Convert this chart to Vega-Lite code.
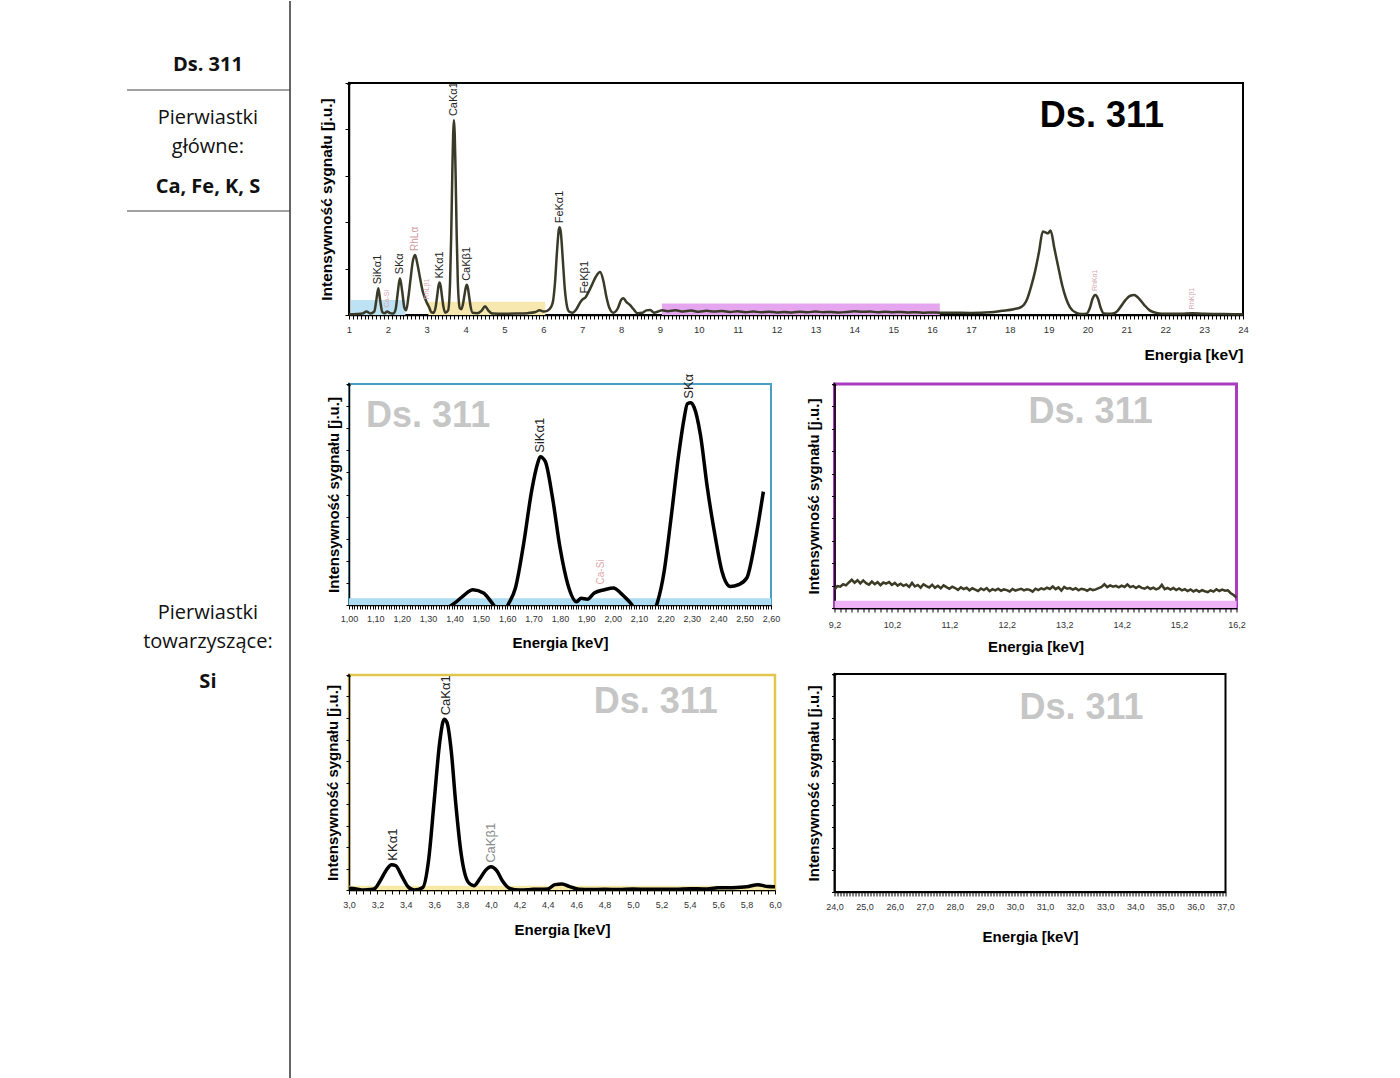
{
  "$schema": "https://vega.github.io/schema/vega-lite/v6.json",
  "background": "white",
  "padding": 0,
  "autosize": {"type": "pad"},
  "bounds": "flush",
  "spacing": 59,
  "config": {
    "view": {"stroke": null},
    "font": "Liberation Sans",
    "axis": {"grid": false, "domainColor": "black", "domainWidth": 1.5, "tickColor": "black", "tickWidth": 1, "labelColor": "#333333", "labelFontSize": 9, "labelFont": "Liberation Sans", "labelFlush": false, "labelOverlap": false, "labelBound": false, "titleFont": "Liberation Sans", "titleColor": "black", "titleFontWeight": "bold", "titleFontSize": 15}
  },
  "datasets": {
    "sideText": [
      {"text": "Ds. 311", "kind": "sample", "row": 64},
      {"text": "Pierwiastki", "kind": "heading", "row": 117},
      {"text": "główne:", "kind": "heading", "row": 146},
      {"text": "Ca, Fe, K, S", "kind": "elements", "row": 186},
      {"text": "Pierwiastki", "kind": "heading", "row": 612},
      {"text": "towarzyszące:", "kind": "heading", "row": 641},
      {"text": "Si", "kind": "elements", "row": 681}
    ],
    "sideRules": [{"row": 89}, {"row": 210}],
    "topBands": [
      {"region": "1,0-2,6 keV", "from": 1.05, "to": 2.45, "level": 6.5},
      {"region": "3,0-6,0 keV", "from": 3.04, "to": 6.05, "level": 5.7},
      {"region": "9,2-16,2 keV", "from": 9.05, "to": 16.2, "level": 5}
    ],
    "topSpectrum": [
      {"E": 1.0, "I": 0.3}, {"E": 1.2, "I": 0.4}, {"E": 1.35, "I": 0.6}, {"E": 1.45, "I": 1.5}, {"E": 1.55, "I": 0.7},
      {"E": 1.65, "I": 1.5}, {"E": 1.7, "I": 6}, {"E": 1.755, "I": 11.5}, {"E": 1.8, "I": 6.5}, {"E": 1.86, "I": 1.2},
      {"E": 1.92, "I": 0.8}, {"E": 1.98, "I": 1.5}, {"E": 2.06, "I": 0.8}, {"E": 2.14, "I": 0.6}, {"E": 2.2, "I": 2.5},
      {"E": 2.25, "I": 9}, {"E": 2.31, "I": 15.8}, {"E": 2.37, "I": 10}, {"E": 2.42, "I": 3.5}, {"E": 2.47, "I": 2},
      {"E": 2.53, "I": 8}, {"E": 2.58, "I": 15}, {"E": 2.64, "I": 23}, {"E": 2.7, "I": 25.9}, {"E": 2.76, "I": 22},
      {"E": 2.83, "I": 15.7}, {"E": 2.9, "I": 10}, {"E": 2.96, "I": 7}, {"E": 3.01, "I": 5}, {"E": 3.06, "I": 3.4},
      {"E": 3.12, "I": 1.2}, {"E": 3.18, "I": 1}, {"E": 3.23, "I": 3.5}, {"E": 3.27, "I": 8.4}, {"E": 3.3, "I": 12.3},
      {"E": 3.33, "I": 14}, {"E": 3.36, "I": 12.3}, {"E": 3.39, "I": 8.4}, {"E": 3.43, "I": 3.5}, {"E": 3.48, "I": 1},
      {"E": 3.55, "I": 2}, {"E": 3.6, "I": 14}, {"E": 3.63, "I": 35}, {"E": 3.66, "I": 63}, {"E": 3.68, "I": 78},
      {"E": 3.7, "I": 84}, {"E": 3.72, "I": 78}, {"E": 3.74, "I": 63}, {"E": 3.77, "I": 35}, {"E": 3.8, "I": 14},
      {"E": 3.85, "I": 3}, {"E": 3.89, "I": 2.5}, {"E": 3.93, "I": 4.5}, {"E": 3.97, "I": 8.5}, {"E": 4.0, "I": 11.5},
      {"E": 4.03, "I": 13}, {"E": 4.06, "I": 11.5}, {"E": 4.09, "I": 8}, {"E": 4.13, "I": 3.5}, {"E": 4.18, "I": 1},
      {"E": 4.3, "I": 0.8}, {"E": 4.42, "I": 2}, {"E": 4.5, "I": 3.8}, {"E": 4.58, "I": 2}, {"E": 4.7, "I": 0.6},
      {"E": 5.0, "I": 0.5}, {"E": 5.3, "I": 0.6}, {"E": 5.6, "I": 0.8}, {"E": 5.8, "I": 1.3}, {"E": 5.9, "I": 2},
      {"E": 6.0, "I": 1.5}, {"E": 6.1, "I": 1.8}, {"E": 6.2, "I": 3.5}, {"E": 6.25, "I": 6}, {"E": 6.3, "I": 14},
      {"E": 6.35, "I": 27}, {"E": 6.4, "I": 37}, {"E": 6.42, "I": 37.8}, {"E": 6.45, "I": 35.5}, {"E": 6.5, "I": 24},
      {"E": 6.55, "I": 11.7}, {"E": 6.6, "I": 4.5}, {"E": 6.66, "I": 1.5}, {"E": 6.75, "I": 1}, {"E": 6.85, "I": 2.5},
      {"E": 6.95, "I": 5.5}, {"E": 7.03, "I": 7}, {"E": 7.08, "I": 7.5}, {"E": 7.15, "I": 9.5}, {"E": 7.25, "I": 13},
      {"E": 7.35, "I": 16.5}, {"E": 7.46, "I": 18.5}, {"E": 7.54, "I": 15}, {"E": 7.62, "I": 8}, {"E": 7.7, "I": 3},
      {"E": 7.8, "I": 1}, {"E": 7.92, "I": 3}, {"E": 8.0, "I": 6.5}, {"E": 8.06, "I": 7.2}, {"E": 8.14, "I": 5.5},
      {"E": 8.22, "I": 4.5}, {"E": 8.32, "I": 2.5}, {"E": 8.42, "I": 0.8}, {"E": 8.55, "I": 1}, {"E": 8.65, "I": 2},
      {"E": 8.75, "I": 2.2}, {"E": 8.85, "I": 1}, {"E": 8.95, "I": 1.5}, {"E": 9.05, "I": 2},
      {"E": 9.2, "I": 1.6}, {"E": 9.4, "I": 2.0}, {"E": 9.6, "I": 1.5}, {"E": 9.8, "I": 1.9}, {"E": 10.0, "I": 1.4},
      {"E": 10.2, "I": 1.8}, {"E": 10.4, "I": 1.5}, {"E": 10.6, "I": 1.7}, {"E": 10.8, "I": 1.3}, {"E": 11.0, "I": 1.6},
      {"E": 11.2, "I": 1.2}, {"E": 11.4, "I": 1.5}, {"E": 11.6, "I": 1.2}, {"E": 11.8, "I": 1.4}, {"E": 12.0, "I": 1.1},
      {"E": 12.2, "I": 1.3}, {"E": 12.4, "I": 1.1}, {"E": 12.6, "I": 1.4}, {"E": 12.8, "I": 1.2}, {"E": 13.0, "I": 1.5},
      {"E": 13.2, "I": 1.2}, {"E": 13.4, "I": 1.3}, {"E": 13.6, "I": 1.1}, {"E": 13.8, "I": 1.3}, {"E": 14.0, "I": 1.6},
      {"E": 14.2, "I": 1.4}, {"E": 14.4, "I": 1.5}, {"E": 14.6, "I": 1.2}, {"E": 14.8, "I": 1.4}, {"E": 15.0, "I": 1.2},
      {"E": 15.2, "I": 1.3}, {"E": 15.4, "I": 1.1}, {"E": 15.6, "I": 1.2}, {"E": 15.8, "I": 1.0}, {"E": 16.0, "I": 1.1},
      {"E": 16.2, "I": 1.0}, {"E": 16.5, "I": 1}, {"E": 17.0, "I": 0.9}, {"E": 17.5, "I": 1.2}, {"E": 17.8, "I": 1.8},
      {"E": 18.1, "I": 2.5}, {"E": 18.3, "I": 3.5}, {"E": 18.45, "I": 7}, {"E": 18.55, "I": 12.3}, {"E": 18.65, "I": 18.8},
      {"E": 18.75, "I": 27}, {"E": 18.85, "I": 36}, {"E": 18.92, "I": 35.6}, {"E": 18.98, "I": 35.2}, {"E": 19.05, "I": 36.4},
      {"E": 19.15, "I": 28.5}, {"E": 19.25, "I": 20.5}, {"E": 19.35, "I": 12.7}, {"E": 19.45, "I": 7}, {"E": 19.55, "I": 3.3},
      {"E": 19.7, "I": 1}, {"E": 19.85, "I": 0.4}, {"E": 19.98, "I": 0.6}, {"E": 20.06, "I": 3}, {"E": 20.13, "I": 7},
      {"E": 20.2, "I": 8.6}, {"E": 20.27, "I": 7}, {"E": 20.34, "I": 3}, {"E": 20.42, "I": 0.6}, {"E": 20.6, "I": 0.5},
      {"E": 20.72, "I": 1}, {"E": 20.85, "I": 3.5}, {"E": 20.98, "I": 6.5}, {"E": 21.1, "I": 8.3}, {"E": 21.2, "I": 8.6},
      {"E": 21.3, "I": 7.5}, {"E": 21.45, "I": 4.5}, {"E": 21.6, "I": 2}, {"E": 21.8, "I": 0.8}, {"E": 22.0, "I": 0.5},
      {"E": 22.4, "I": 0.5}, {"E": 22.7, "I": 0.8}, {"E": 23.0, "I": 0.5}, {"E": 23.5, "I": 0.4}, {"E": 24.0, "I": 0.3}
    ],
    "topLabels": [
      {"label": "SiKα1", "E": 1.755, "I": 11.5, "kind": "major"},
      {"label": "Ca-Si", "E": 1.98, "I": 1.5, "kind": "minor"},
      {"label": "SKα", "E": 2.31, "I": 15.8, "kind": "major"},
      {"label": "RhLα", "E": 2.7, "I": 25.9, "kind": "tube"},
      {"label": "RhLβ1", "E": 3.01, "I": 5, "kind": "minor"},
      {"label": "KKα1", "E": 3.33, "I": 14, "kind": "major"},
      {"label": "CaKα1", "E": 3.7, "I": 84, "kind": "major"},
      {"label": "CaKβ1", "E": 4.03, "I": 13, "kind": "major"},
      {"label": "FeKα1", "E": 6.42, "I": 37.8, "kind": "major"},
      {"label": "FeKβ1", "E": 7.08, "I": 7.5, "kind": "major"},
      {"label": "RhKα1", "E": 20.2, "I": 8.6, "kind": "minor"},
      {"label": "RhKβ1", "E": 22.7, "I": 0.8, "kind": "minor"}
    ],
    "siSpectrum": [
      {"E": 1.35, "I": -3}, {"E": 1.4, "I": 0.8}, {"E": 1.43, "I": 3.8}, {"E": 1.47, "I": 6.9}, {"E": 1.51, "I": 5.4},
      {"E": 1.545, "I": 0.5}, {"E": 1.57, "I": -3}, {"E": 1.6, "I": -0.5}, {"E": 1.606, "I": 0.8}, {"E": 1.631, "I": 7.7},
      {"E": 1.662, "I": 27.6}, {"E": 1.693, "I": 52}, {"E": 1.715, "I": 64}, {"E": 1.725, "I": 67.1}, {"E": 1.744, "I": 65},
      {"E": 1.771, "I": 49}, {"E": 1.8, "I": 26}, {"E": 1.83, "I": 9.2}, {"E": 1.863, "I": 1.5}, {"E": 1.88, "I": 3},
      {"E": 1.904, "I": 2.6}, {"E": 1.93, "I": 5.4}, {"E": 1.969, "I": 6.9}, {"E": 2.003, "I": 7.7}, {"E": 2.03, "I": 5.4},
      {"E": 2.063, "I": 1.5}, {"E": 2.09, "I": -2}, {"E": 2.14, "I": -3}, {"E": 2.165, "I": -0.3}, {"E": 2.17, "I": 1.5},
      {"E": 2.195, "I": 15.3}, {"E": 2.22, "I": 38.3}, {"E": 2.251, "I": 68.9}, {"E": 2.27, "I": 84}, {"E": 2.283, "I": 91.1},
      {"E": 2.295, "I": 91.5}, {"E": 2.308, "I": 89.6}, {"E": 2.333, "I": 76.6}, {"E": 2.358, "I": 53.6}, {"E": 2.389, "I": 30.6},
      {"E": 2.414, "I": 15.3}, {"E": 2.446, "I": 8.4}, {"E": 2.477, "I": 9.2}, {"E": 2.508, "I": 12.2}, {"E": 2.54, "I": 29},
      {"E": 2.571, "I": 51.3}
    ],
    "siLabels": [
      {"label": "SiKα1", "E": 1.725, "I": 67.1, "kind": "major"},
      {"label": "SKα", "E": 2.29, "I": 91.5, "kind": "major"},
      {"label": "Ca-Si", "E": 1.957, "I": 7.5, "kind": "minor"}
    ],
    "feSpectrum": [
      {"E": 9.2, "I": 8.2}, {"E": 9.25, "I": 9.8}, {"E": 9.3, "I": 9.5}, {"E": 9.35, "I": 10.6}, {"E": 9.4, "I": 10.1},
      {"E": 9.45, "I": 11.4}, {"E": 9.5, "I": 12.6}, {"E": 9.55, "I": 11.3}, {"E": 9.6, "I": 12.4}, {"E": 9.65, "I": 11.0},
      {"E": 9.7, "I": 12.3}, {"E": 9.75, "I": 11.1}, {"E": 9.8, "I": 10.4}, {"E": 9.85, "I": 11.8}, {"E": 9.9, "I": 10.6},
      {"E": 9.95, "I": 11.5}, {"E": 10.0, "I": 10.2}, {"E": 10.05, "I": 11.4}, {"E": 10.1, "I": 10.9}, {"E": 10.15, "I": 11.6},
      {"E": 10.2, "I": 10.3}, {"E": 10.25, "I": 11.2}, {"E": 10.3, "I": 10.0}, {"E": 10.35, "I": 10.8}, {"E": 10.4, "I": 9.9},
      {"E": 10.45, "I": 10.5}, {"E": 10.5, "I": 9.4}, {"E": 10.55, "I": 11.2}, {"E": 10.6, "I": 9.6}, {"E": 10.65, "I": 10.3},
      {"E": 10.7, "I": 9.1}, {"E": 10.75, "I": 10.6}, {"E": 10.8, "I": 9.8}, {"E": 10.85, "I": 9.2}, {"E": 10.9, "I": 10.4},
      {"E": 10.95, "I": 9.0}, {"E": 11.0, "I": 9.9}, {"E": 11.05, "I": 8.8}, {"E": 11.1, "I": 10.1}, {"E": 11.15, "I": 9.3},
      {"E": 11.2, "I": 8.6}, {"E": 11.25, "I": 9.5}, {"E": 11.3, "I": 8.9}, {"E": 11.35, "I": 8.1}, {"E": 11.4, "I": 9.2},
      {"E": 11.45, "I": 8.4}, {"E": 11.5, "I": 9.0}, {"E": 11.55, "I": 7.9}, {"E": 11.6, "I": 8.8}, {"E": 11.65, "I": 8.2},
      {"E": 11.7, "I": 7.6}, {"E": 11.75, "I": 8.7}, {"E": 11.8, "I": 8.0}, {"E": 11.85, "I": 8.9}, {"E": 11.9, "I": 7.5},
      {"E": 11.95, "I": 8.4}, {"E": 12.0, "I": 7.9}, {"E": 12.05, "I": 8.6}, {"E": 12.1, "I": 7.7}, {"E": 12.15, "I": 8.3},
      {"E": 12.2, "I": 8.0}, {"E": 12.25, "I": 7.4}, {"E": 12.3, "I": 8.5}, {"E": 12.35, "I": 7.8}, {"E": 12.4, "I": 8.2},
      {"E": 12.45, "I": 8.6}, {"E": 12.5, "I": 7.9}, {"E": 12.55, "I": 8.4}, {"E": 12.6, "I": 8.1}, {"E": 12.65, "I": 7.3},
      {"E": 12.7, "I": 8.6}, {"E": 12.75, "I": 8.0}, {"E": 12.8, "I": 8.8}, {"E": 12.85, "I": 8.3}, {"E": 12.9, "I": 9.1},
      {"E": 12.95, "I": 8.5}, {"E": 13.0, "I": 9.6}, {"E": 13.05, "I": 8.4}, {"E": 13.1, "I": 9.2}, {"E": 13.15, "I": 7.8},
      {"E": 13.2, "I": 9.4}, {"E": 13.25, "I": 8.6}, {"E": 13.3, "I": 8.9}, {"E": 13.35, "I": 8.2}, {"E": 13.4, "I": 8.8},
      {"E": 13.45, "I": 7.9}, {"E": 13.5, "I": 8.6}, {"E": 13.55, "I": 8.3}, {"E": 13.6, "I": 7.7}, {"E": 13.65, "I": 8.5},
      {"E": 13.7, "I": 8.0}, {"E": 13.75, "I": 8.3}, {"E": 13.8, "I": 8.9}, {"E": 13.85, "I": 9.4}, {"E": 13.9, "I": 10.6},
      {"E": 13.95, "I": 9.3}, {"E": 14.0, "I": 10.1}, {"E": 14.05, "I": 9.5}, {"E": 14.1, "I": 9.9}, {"E": 14.15, "I": 9.2},
      {"E": 14.2, "I": 10.0}, {"E": 14.25, "I": 9.4}, {"E": 14.3, "I": 10.5}, {"E": 14.35, "I": 9.3}, {"E": 14.4, "I": 9.8},
      {"E": 14.45, "I": 8.9}, {"E": 14.5, "I": 9.7}, {"E": 14.55, "I": 9.0}, {"E": 14.6, "I": 8.6}, {"E": 14.65, "I": 9.4},
      {"E": 14.7, "I": 8.5}, {"E": 14.75, "I": 9.1}, {"E": 14.8, "I": 8.3}, {"E": 14.85, "I": 8.8}, {"E": 14.9, "I": 10.3},
      {"E": 14.95, "I": 8.4}, {"E": 15.0, "I": 9.0}, {"E": 15.05, "I": 8.2}, {"E": 15.1, "I": 8.9}, {"E": 15.15, "I": 8.0},
      {"E": 15.2, "I": 8.7}, {"E": 15.25, "I": 7.9}, {"E": 15.3, "I": 8.4}, {"E": 15.35, "I": 7.6}, {"E": 15.4, "I": 8.3},
      {"E": 15.45, "I": 7.4}, {"E": 15.5, "I": 8.1}, {"E": 15.55, "I": 7.2}, {"E": 15.6, "I": 8.0}, {"E": 15.65, "I": 7.5},
      {"E": 15.7, "I": 7.1}, {"E": 15.75, "I": 7.9}, {"E": 15.8, "I": 7.3}, {"E": 15.85, "I": 8.4}, {"E": 15.9, "I": 7.6},
      {"E": 15.95, "I": 8.2}, {"E": 16.0, "I": 7.7}, {"E": 16.05, "I": 7.9}, {"E": 16.1, "I": 6.6}, {"E": 16.15, "I": 5.8},
      {"E": 16.2, "I": 4.6}
    ],
    "caSpectrum": [
      {"E": 3.0, "I": 0.8}, {"E": 3.05, "I": 0.5}, {"E": 3.1, "I": 0}, {"E": 3.15, "I": 0.2}, {"E": 3.18, "I": 0.6},
      {"E": 3.22, "I": 4.3}, {"E": 3.26, "I": 9}, {"E": 3.3, "I": 11.8}, {"E": 3.33, "I": 11.3}, {"E": 3.37, "I": 6.7},
      {"E": 3.42, "I": 1.2}, {"E": 3.46, "I": 0}, {"E": 3.52, "I": 1.2}, {"E": 3.56, "I": 13.6}, {"E": 3.6, "I": 41.5},
      {"E": 3.64, "I": 69.3}, {"E": 3.67, "I": 79.4}, {"E": 3.69, "I": 77.9}, {"E": 3.72, "I": 64.7}, {"E": 3.75, "I": 41.5},
      {"E": 3.79, "I": 16.7}, {"E": 3.84, "I": 3.6}, {"E": 3.88, "I": 2}, {"E": 3.92, "I": 5.1}, {"E": 3.96, "I": 9},
      {"E": 4.0, "I": 10.8}, {"E": 4.04, "I": 9}, {"E": 4.08, "I": 4.3}, {"E": 4.13, "I": 0.8}, {"E": 4.2, "I": 0},
      {"E": 4.3, "I": 0.3}, {"E": 4.4, "I": 0.5}, {"E": 4.45, "I": 2.5}, {"E": 4.5, "I": 2.8}, {"E": 4.55, "I": 1.7},
      {"E": 4.62, "I": 0.3}, {"E": 4.7, "I": 0.2}, {"E": 4.8, "I": 0.3}, {"E": 4.9, "I": 0.2}, {"E": 5.0, "I": 0.5},
      {"E": 5.1, "I": 0.3}, {"E": 5.2, "I": 0.4}, {"E": 5.3, "I": 0.3}, {"E": 5.4, "I": 0.6}, {"E": 5.5, "I": 0.5},
      {"E": 5.6, "I": 1.0}, {"E": 5.7, "I": 1.1}, {"E": 5.8, "I": 1.5}, {"E": 5.88, "I": 2.5}, {"E": 5.95, "I": 1.6},
      {"E": 6.0, "I": 1.5}
    ],
    "caLabels": [
      {"label": "KKα1", "E": 3.31, "I": 11.8, "kind": "major"},
      {"label": "CaKα1", "E": 3.68, "I": 79.4, "kind": "major"},
      {"label": "CaKβ1", "E": 4.0, "I": 10.8, "kind": "secondary"}
    ],
    "sample": [{"sample": "Ds. 311"}]
  },
  "hconcat": [
    {
      "width": 290,
      "height": 1078,
      "layer": [
        {
          "data": {"values": [{"edge": "right"}]},
          "mark": {"type": "rule", "color": "#333333", "strokeWidth": 1.5},
          "encoding": {
            "x": {"datum": 1, "type": "quantitative", "scale": {"domain": [0, 1], "nice": false}, "axis": null},
            "y": {"datum": 0, "type": "quantitative", "scale": {"domain": [0, 1078], "reverse": true, "nice": false}, "axis": null},
            "y2": {"datum": 1078}
          }
        },
        {
          "data": {"name": "sideRules"},
          "mark": {"type": "rule", "color": "#444444", "strokeWidth": 1.2},
          "encoding": {
            "x": {"datum": 0.438, "type": "quantitative"},
            "x2": {"datum": 1},
            "y": {"field": "row", "type": "quantitative"}
          }
        },
        {
          "data": {"name": "sideText"},
          "transform": [{"filter": "datum.kind == 'heading'"}],
          "mark": {"type": "text", "font": "Open Sans", "fontSize": 20, "color": "#111111"},
          "encoding": {
            "x": {"datum": 0.717, "type": "quantitative"},
            "y": {"field": "row", "type": "quantitative"},
            "text": {"field": "text"}
          }
        },
        {
          "data": {"name": "sideText"},
          "transform": [{"filter": "datum.kind != 'heading'"}],
          "mark": {"type": "text", "font": "Open Sans", "fontSize": 20, "fontWeight": "bold", "color": "#111111"},
          "encoding": {
            "x": {"datum": 0.717, "type": "quantitative"},
            "y": {"field": "row", "type": "quantitative"},
            "text": {"field": "text"}
          }
        }
      ]
    },
    {
      "bounds": "flush",
      "spacing": 69,
      "vconcat": [
        {
          "width": 894,
          "height": 13,
          "data": {"values": [{"blank": ""}]},
          "mark": {"type": "text"},
          "encoding": {"text": {"field": "blank"}}
        },
        {
          "width": 894,
          "height": 232,
          "view": {"stroke": "black", "strokeWidth": 2},
          "layer": [
            {
              "data": {"name": "topBands"},
              "mark": {"type": "rect"},
              "encoding": {
                "x": {"field": "from", "type": "quantitative", "scale": {"domain": [1, 24], "nice": false, "zero": false},
                  "axis": {"title": "Energia [keV]", "titleAnchor": "end", "tickCount": 230, "tickSize": 4, "labelPadding": 5, "labelFontSize": 9.5, "titlePadding": 14, "titleFontSize": 15.5,
                    "labelExpr": "round(datum.value*10) % 10 == 0 ? format(datum.value, 'd') : ''"}},
                "x2": {"field": "to"},
                "y": {"field": "level", "type": "quantitative", "scale": {"domain": [0, 100], "nice": false},
                  "axis": {"title": "Intensywność sygnału [j.u.]", "labels": false, "tickCount": 5, "tickSize": 4, "titlePadding": 10, "titleFontSize": 15.5}},
                "y2": {"datum": 0},
                "color": {"field": "region", "type": "nominal", "legend": null,
                  "scale": {"domain": ["1,0-2,6 keV", "3,0-6,0 keV", "9,2-16,2 keV"], "range": ["#bde2f4", "#f6e8ae", "#e6a6ef"]}}
              }
            },
            {
              "data": {"name": "topSpectrum"},
              "mark": {"type": "line", "color": "#3a3a28", "strokeWidth": 2.5, "interpolate": "monotone"},
              "encoding": {
                "x": {"field": "E", "type": "quantitative"},
                "y": {"field": "I", "type": "quantitative"}
              }
            },
            {
              "data": {"name": "topLabels"},
              "transform": [{"filter": "datum.kind == 'major'"}],
              "mark": {"type": "text", "angle": 270, "align": "left", "baseline": "middle", "dx": 4, "fontSize": 11, "color": "#222222"},
              "encoding": {
                "x": {"field": "E", "type": "quantitative"},
                "y": {"field": "I", "type": "quantitative"},
                "text": {"field": "label"}
              }
            },
            {
              "data": {"name": "topLabels"},
              "transform": [{"filter": "datum.kind == 'tube'"}],
              "mark": {"type": "text", "angle": 270, "align": "left", "baseline": "middle", "dx": 4, "fontSize": 10, "color": "#d09a9e"},
              "encoding": {
                "x": {"field": "E", "type": "quantitative"},
                "y": {"field": "I", "type": "quantitative"},
                "text": {"field": "label"}
              }
            },
            {
              "data": {"name": "topLabels"},
              "transform": [{"filter": "datum.kind == 'minor'"}],
              "mark": {"type": "text", "angle": 270, "align": "left", "baseline": "middle", "dx": 4, "fontSize": 7, "color": "#d8a8b0"},
              "encoding": {
                "x": {"field": "E", "type": "quantitative"},
                "y": {"field": "I", "type": "quantitative"},
                "text": {"field": "label"}
              }
            },
            {
              "data": {"name": "sample"},
              "mark": {"type": "text", "fontSize": 36, "fontWeight": "bold", "color": "black"},
              "encoding": {
                "x": {"datum": 20.37, "type": "quantitative"},
                "y": {"datum": 85.8, "type": "quantitative"},
                "text": {"field": "sample"}
              }
            },
            {
              "data": {"name": "sample"},
              "mark": {"type": "point", "shape": "triangle-up", "filled": true, "size": 16, "color": "black", "opacity": 1},
              "encoding": {
                "x": {"datum": 1, "type": "quantitative"},
                "y": {"datum": 100, "type": "quantitative"}
              }
            }
          ]
        },
        {
          "bounds": "flush",
          "spacing": 485.5,
          "hconcat": [
            {
              "bounds": "flush",
              "spacing": 70,
              "vconcat": [
                {
                  "width": 422,
                  "height": 221,
                  "view": {"stroke": "#4a9fc4", "strokeWidth": 2},
                  "layer": [
                    {
                      "data": {"name": "sample"},
                      "mark": {"type": "rect", "color": "#aedcf2"},
                      "encoding": {
                        "x": {"datum": 1.0, "type": "quantitative", "scale": {"domain": [1, 2.6], "nice": false, "zero": false},
                          "axis": {"title": "Energia [keV]", "tickCount": 160, "tickSize": 4, "labelPadding": 5, "titlePadding": 12,
                            "labelExpr": "round(datum.value*100) % 10 == 0 ? replace(format(datum.value, '.2f'), '.', ',') : ''"}},
                        "x2": {"datum": 2.6},
                        "y": {"datum": 3, "type": "quantitative", "scale": {"domain": [0, 100], "nice": false},
                          "axis": {"title": "Intensywność sygnału [j.u.]", "labels": false, "tickCount": 10, "tickSize": 3, "titlePadding": 4, "titleFontSize": 15}},
                        "y2": {"datum": 0}
                      }
                    },
                    {
                      "data": {"name": "siSpectrum"},
                      "mark": {"type": "line", "color": "black", "strokeWidth": 3.5, "interpolate": "monotone", "clip": true},
                      "encoding": {
                        "x": {"field": "E", "type": "quantitative"},
                        "y": {"field": "I", "type": "quantitative"}
                      }
                    },
                    {
                      "data": {"name": "siLabels"},
                      "transform": [{"filter": "datum.kind == 'major'"}],
                      "mark": {"type": "text", "angle": 270, "align": "left", "baseline": "middle", "dx": 4, "fontSize": 13, "color": "#222222"},
                      "encoding": {
                        "x": {"field": "E", "type": "quantitative"},
                        "y": {"field": "I", "type": "quantitative"},
                        "text": {"field": "label"}
                      }
                    },
                    {
                      "data": {"name": "siLabels"},
                      "transform": [{"filter": "datum.kind == 'minor'"}],
                      "mark": {"type": "text", "angle": 270, "align": "left", "baseline": "middle", "dx": 4, "fontSize": 10, "color": "#e0a8a8"},
                      "encoding": {
                        "x": {"field": "E", "type": "quantitative"},
                        "y": {"field": "I", "type": "quantitative"},
                        "text": {"field": "label"}
                      }
                    },
                    {
                      "data": {"name": "sample"},
                      "mark": {"type": "text", "fontSize": 36, "fontWeight": "bold", "color": "#c6c6c6"},
                      "encoding": {
                        "x": {"datum": 1.3, "type": "quantitative"},
                        "y": {"datum": 85.7, "type": "quantitative"},
                        "text": {"field": "sample"}
                      }
                    },
                    {
                      "data": {"name": "sample"},
                      "mark": {"type": "point", "shape": "triangle-up", "filled": true, "size": 16, "color": "black", "opacity": 1},
                      "encoding": {
                        "x": {"datum": 1, "type": "quantitative"},
                        "y": {"datum": 100, "type": "quantitative"}
                      }
                    }
                  ]
                },
                {
                  "width": 426,
                  "height": 215,
                  "view": {"stroke": "#e2c54c", "strokeWidth": 2.5},
                  "layer": [
                    {
                      "data": {"name": "sample"},
                      "mark": {"type": "rect", "color": "#f6eaa6"},
                      "encoding": {
                        "x": {"datum": 3.0, "type": "quantitative", "scale": {"domain": [3, 6], "nice": false, "zero": false},
                          "axis": {"title": "Energia [keV]", "tickCount": 60, "tickSize": 4, "labelPadding": 6, "titlePadding": 13,
                            "labelExpr": "round(datum.value*20) % 4 == 0 ? replace(format(datum.value, '.1f'), '.', ',') : ''"}},
                        "x2": {"datum": 6.0},
                        "y": {"datum": 2, "type": "quantitative", "scale": {"domain": [0, 100], "nice": false},
                          "axis": {"title": "Intensywność sygnału [j.u.]", "labels": false, "tickCount": 10, "tickSize": 3, "titlePadding": 5, "titleFontSize": 15}},
                        "y2": {"datum": 0}
                      }
                    },
                    {
                      "data": {"name": "caSpectrum"},
                      "mark": {"type": "line", "color": "black", "strokeWidth": 3.5, "interpolate": "monotone", "clip": true},
                      "encoding": {
                        "x": {"field": "E", "type": "quantitative"},
                        "y": {"field": "I", "type": "quantitative"}
                      }
                    },
                    {
                      "data": {"name": "caLabels"},
                      "transform": [{"filter": "datum.kind == 'major'"}],
                      "mark": {"type": "text", "angle": 270, "align": "left", "baseline": "middle", "dx": 4, "fontSize": 13, "color": "#222222"},
                      "encoding": {
                        "x": {"field": "E", "type": "quantitative"},
                        "y": {"field": "I", "type": "quantitative"},
                        "text": {"field": "label"}
                      }
                    },
                    {
                      "data": {"name": "caLabels"},
                      "transform": [{"filter": "datum.kind == 'secondary'"}],
                      "mark": {"type": "text", "angle": 270, "align": "left", "baseline": "middle", "dx": 4, "fontSize": 13, "color": "#8a8a8a"},
                      "encoding": {
                        "x": {"field": "E", "type": "quantitative"},
                        "y": {"field": "I", "type": "quantitative"},
                        "text": {"field": "label"}
                      }
                    },
                    {
                      "data": {"name": "sample"},
                      "mark": {"type": "text", "fontSize": 36, "fontWeight": "bold", "color": "#c6c6c6"},
                      "encoding": {
                        "x": {"datum": 5.16, "type": "quantitative"},
                        "y": {"datum": 87.3, "type": "quantitative"},
                        "text": {"field": "sample"}
                      }
                    },
                    {
                      "data": {"name": "sample"},
                      "mark": {"type": "point", "shape": "triangle-up", "filled": true, "size": 16, "color": "black", "opacity": 1},
                      "encoding": {
                        "x": {"datum": 3, "type": "quantitative"},
                        "y": {"datum": 100, "type": "quantitative"}
                      }
                    }
                  ]
                }
              ]
            },
            {
              "bounds": "flush",
              "spacing": 66,
              "vconcat": [
                {
                  "width": 402,
                  "height": 224,
                  "view": {"stroke": "#a93dbf", "strokeWidth": 3},
                  "layer": [
                    {
                      "data": {"name": "sample"},
                      "mark": {"type": "rect", "color": "#f0b2f6"},
                      "encoding": {
                        "x": {"datum": 9.2, "type": "quantitative", "scale": {"domain": [9.2, 16.2], "nice": false, "zero": false},
                          "axis": {"title": "Energia [keV]", "tickCount": 70, "tickSize": 4, "labelPadding": 8, "titlePadding": 10,
                            "labelExpr": "(round(datum.value*10) - 92) % 10 == 0 ? replace(format(datum.value, '.1f'), '.', ',') : ''"}},
                        "x2": {"datum": 16.2},
                        "y": {"datum": 3.2, "type": "quantitative", "scale": {"domain": [0, 100], "nice": false},
                          "axis": {"title": "Intensywność sygnału [j.u.]", "labels": false, "tickCount": 10, "tickSize": 3, "titlePadding": 10, "titleFontSize": 15}},
                        "y2": {"datum": 0}
                      }
                    },
                    {
                      "data": {"name": "feSpectrum"},
                      "mark": {"type": "line", "color": "#3c3b25", "strokeWidth": 2.5},
                      "encoding": {
                        "x": {"field": "E", "type": "quantitative"},
                        "y": {"field": "I", "type": "quantitative"}
                      }
                    },
                    {
                      "data": {"name": "sample"},
                      "mark": {"type": "text", "fontSize": 36, "fontWeight": "bold", "color": "#c6c6c6"},
                      "encoding": {
                        "x": {"datum": 13.66, "type": "quantitative"},
                        "y": {"datum": 87.7, "type": "quantitative"},
                        "text": {"field": "sample"}
                      }
                    },
                    {
                      "data": {"name": "sample"},
                      "mark": {"type": "point", "shape": "triangle-up", "filled": true, "size": 16, "color": "black", "opacity": 1},
                      "encoding": {
                        "x": {"datum": 9.2, "type": "quantitative"},
                        "y": {"datum": 100, "type": "quantitative"}
                      }
                    }
                  ]
                },
                {
                  "width": 391,
                  "height": 218,
                  "view": {"stroke": "black", "strokeWidth": 2},
                  "layer": [
                    {
                      "data": {"name": "sample"},
                      "mark": {"type": "text", "fontSize": 36, "fontWeight": "bold", "color": "#c6c6c6"},
                      "encoding": {
                        "x": {"datum": 32.21, "type": "quantitative", "scale": {"domain": [24, 37], "nice": false, "zero": false},
                          "axis": {"title": "Energia [keV]", "tickCount": 130, "tickSize": 4, "labelPadding": 6, "titlePadding": 18,
                            "labelExpr": "round(datum.value*10) % 10 == 0 ? replace(format(datum.value, '.1f'), '.', ',') : ''"}},
                        "y": {"datum": 84.4, "type": "quantitative", "scale": {"domain": [0, 100], "nice": false},
                          "axis": {"title": "Intensywność sygnału [j.u.]", "labels": false, "tickCount": 10, "tickSize": 3, "titlePadding": 10, "titleFontSize": 15}},
                        "text": {"field": "sample"}
                      }
                    },
                    {
                      "data": {"name": "sample"},
                      "mark": {"type": "point", "shape": "triangle-up", "filled": true, "size": 16, "color": "black", "opacity": 1},
                      "encoding": {
                        "x": {"datum": 24, "type": "quantitative"},
                        "y": {"datum": 100, "type": "quantitative"}
                      }
                    }
                  ]
                }
              ]
            }
          ]
        }
      ]
    }
  ]
}
